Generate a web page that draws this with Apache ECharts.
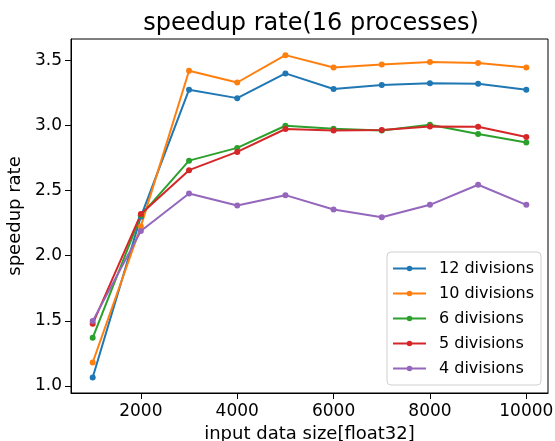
<!DOCTYPE html>
<html>
<head>
<meta charset="utf-8">
<script src="https://cdn.jsdelivr.net/npm/echarts@6/dist/echarts.min.js"></script>
<style>
  html, body { margin: 0; padding: 0; background: #fff; }
  #chart { width: 555px; height: 441px; }
</style>
</head>
<body>
<div id="chart"></div>
<script>
  // input sizes (float32 count)
  const sizes = [1000, 2000, 3000, 4000, 5000, 6000, 7000, 8000, 9000, 10000];

  const div12 = [1.065, 2.30, 3.275, 3.21, 3.40, 3.28, 3.31, 3.325, 3.32, 3.275];
  const div10 = [1.18, 2.225, 3.42, 3.33, 3.54, 3.445, 3.468, 3.488, 3.48, 3.445];
  const div6 = [1.37, 2.31, 2.73, 2.828, 2.998, 2.975, 2.962, 3.006, 2.935, 2.87];
  const div5 = [1.477, 2.32, 2.657, 2.797, 2.973, 2.962, 2.965, 2.993, 2.99, 2.912];
  const div4 = [1.498, 2.19, 2.478, 2.385, 2.465, 2.355, 2.295, 2.391, 2.545, 2.391];

  const names = ['12 divisions', '10 divisions', '6 divisions', '5 divisions', '4 divisions'];
  const values = [div12, div10, div6, div5, div4];
  const colors = ['#1f77b4', '#ff7f0e', '#2ca02c', '#d62728', '#9467bd'];

  const xTicks = [2000, 4000, 6000, 8000, 10000];
  const yTicks = [1.0, 1.5, 2.0, 2.5, 3.0, 3.5];

  const font = 'DejaVu Sans';
  const myChart = echarts.init(document.getElementById('chart'));

  const series = values.map((vals, i) => {
    return {
      name: names[i],
      type: 'line',
      data: vals.map((v, j) => [sizes[j], v]),
      symbol: 'circle',
      symbolSize: 6,
      lineStyle: { width: 2, color: colors[i] },
      itemStyle: { color: colors[i] },
      emphasis: { disabled: true },
    };
  });

  myChart.setOption({
    animation: false,
    title: {
      text: 'speedup rate(16 processes)',
      left: 306,
      textAlign: 'center',
      top: 7,
      textStyle: { fontFamily: font, fontSize: 24, fontWeight: 'normal', color: '#000' },
    },
    grid: {
      left: 71, right: 7, top: 39, bottom: 48,
      outerBoundsMode: 'none',
      containLabel: false,
      show: true, borderColor: '#000', borderWidth: 1,
    },
    legend: {
      orient: 'vertical',
      left: 387,
      top: 252,
      width: 140,
      padding: [8, 7, 8, 5],
      itemWidth: 33,
      itemHeight: 7,
      itemGap: 8,
      backgroundColor: '#fff',
      borderColor: '#d0d0d0',
      borderWidth: 1,
      borderRadius: 4,
      textStyle: { fontFamily: font, fontSize: 16, lineHeight: 17, color: '#000', padding: [0, 0, 0, 8] },
      data: names,
    },
    xAxis: {
      type: 'value',
      min: 550,
      max: 10450,
      name: 'input data size[float32]',
      nameLocation: 'middle',
      nameGap: 27,
      nameTextStyle: { fontFamily: font, fontSize: 18, color: '#000' },
      splitLine: { show: false },
      axisLine: { show: true, onZero: false, lineStyle: { color: '#000', width: 1 } },
      axisTick: { show: true, length: 6, inside: false, customValues: xTicks, lineStyle: { color: '#000' } },
      axisLabel: {
        customValues: xTicks, margin: 10, fontFamily: font, fontSize: 17, color: '#000',
        formatter: (v) => String(v),
      },
    },
    yAxis: {
      type: 'value',
      min: 0.946,
      max: 3.664,
      name: 'speedup rate',
      nameLocation: 'middle',
      nameGap: 46,
      nameTextStyle: { fontFamily: font, fontSize: 18, color: '#000' },
      splitLine: { show: false },
      axisLine: { show: true, onZero: false, lineStyle: { color: '#000', width: 1 } },
      axisTick: { show: true, length: 6, inside: false, customValues: yTicks, lineStyle: { color: '#000' } },
      axisLabel: {
        customValues: yTicks, margin: 9, fontFamily: font, fontSize: 17, color: '#000',
        formatter: (v) => v.toFixed(1),
      },
    },
    series,
  });
</script>
</body>
</html>
